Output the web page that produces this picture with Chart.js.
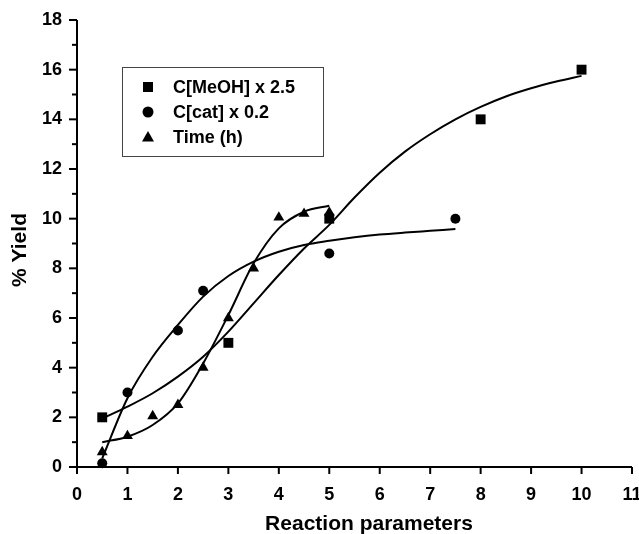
<!DOCTYPE html>
<html>
<head>
<meta charset="utf-8">
<script src="https://cdn.jsdelivr.net/npm/chart.js@4.4.0/dist/chart.umd.min.js"></script>
<style>
  html, body { margin: 0; padding: 0; background: #fff; }
</style>
</head>
<body>
<canvas id="chart" width="639" height="534"></canvas>
<script>
// measured points
const seriesNames = ['C[MeOH] x 2.5', 'C[cat] x 0.2', 'Time (h)'];
const meohX = [0.5, 3, 5, 8, 10];
const meohY = [2.0, 5.0, 10.0, 14.0, 16.0];
const catX = [0.5, 1, 2, 2.5, 5, 7.5];
const catY = [0.15, 3.0, 5.5, 7.1, 8.6, 10.0];
const timeX = [0.5, 1, 1.5, 2, 2.5, 3, 3.5, 4, 4.5, 5];
const timeY = [0.6, 1.25, 2.05, 2.5, 4.0, 6.0, 8.0, 10.05, 10.2, 10.25];

// fitted curves
const meohFitX = [0.5, 1, 1.5, 2, 2.5, 3, 3.5, 4, 4.5, 5, 5.5, 6, 6.5, 7, 7.5, 8, 8.5, 9, 9.5, 10];
const meohFitY = [1.95, 2.43, 2.97, 3.64, 4.44, 5.45, 6.59, 7.73, 8.8, 9.75, 10.85, 11.85, 12.7, 13.4, 14.0, 14.5, 14.92, 15.25, 15.52, 15.75];
const catFitX = [0.5, 1, 1.5, 2, 2.5, 3, 3.5, 4, 4.5, 5, 5.5, 6, 6.5, 7, 7.5];
const catFitY = [0.35, 2.77, 4.44, 5.72, 6.86, 7.69, 8.27, 8.67, 8.94, 9.11, 9.25, 9.36, 9.44, 9.51, 9.58];
const timeFitX = [0.5, 1, 1.5, 2, 2.5, 3, 3.5, 4, 4.5, 5];
const timeFitY = [1.0, 1.22, 1.69, 2.56, 4.17, 6.12, 8.2, 9.61, 10.28, 10.52];

const xMin = 0, xMax = 11;
const yMin = 0, yMax = 18;

const FONT = '"Liberation Sans", Arial, sans-serif';

function pts(xs, ys) {
  return xs.map((x, i) => ({ x: x, y: ys[i] }));
}

function markerSet(label, xs, ys, style, radius) {
  return {
    label: label,
    data: pts(xs, ys),
    showLine: false,
    pointStyle: style,
    pointRadius: radius,
    pointBackgroundColor: '#000',
    pointBorderColor: '#000',
    pointBorderWidth: 0,
    clip: false
  };
}

function fitSet(xs, ys) {
  return {
    label: '',
    data: pts(xs, ys),
    showLine: true,
    borderColor: '#000',
    borderWidth: 2,
    pointRadius: 0,
    cubicInterpolationMode: 'monotone',
    fill: false,
    clip: false
  };
}

const markerStyles = ['rect', 'circle', 'triangle'];
const markerRadius = [7, 5, 6.3];

// axes, ticks, titles and legend box
const framePlugin = {
  id: 'frame',
  afterDraw(chart) {
    const ctx = chart.ctx;
    const xs = chart.scales.x;
    const ys = chart.scales.y;
    const area = chart.chartArea;
    ctx.save();
    ctx.strokeStyle = '#000';
    ctx.lineWidth = 2;
    ctx.beginPath();
    ctx.moveTo(area.left, area.top);
    ctx.lineTo(area.left, area.bottom);
    ctx.lineTo(area.right, area.bottom);
    ctx.stroke();

    for (let v = xMin; v <= xMax; v++) {
      const px = xs.getPixelForValue(v);
      ctx.beginPath();
      ctx.moveTo(px, area.bottom);
      ctx.lineTo(px, area.bottom + 7);
      ctx.stroke();
    }
    for (let v = yMin; v <= yMax; v++) {
      const py = ys.getPixelForValue(v);
      const len = v % 2 === 0 ? 8 : 5;
      ctx.beginPath();
      ctx.moveTo(area.left, py);
      ctx.lineTo(area.left - len, py);
      ctx.stroke();
    }

    // axis titles
    ctx.fillStyle = '#000';
    ctx.font = 'bold 21px ' + FONT;
    ctx.textAlign = 'center';
    ctx.textBaseline = 'middle';
    ctx.fillText('Reaction parameters', 369, 524);
    ctx.translate(20, 250);
    ctx.rotate(-Math.PI / 2);
    ctx.fillText('% Yield', 0, 0);
    ctx.setTransform(1, 0, 0, 1, 0, 0);

    // legend
    ctx.strokeStyle = '#444';
    ctx.lineWidth = 1;
    ctx.strokeRect(122.5, 67.5, 201, 89);
    ctx.font = 'bold 18px ' + FONT;
    ctx.textAlign = 'left';
    const rows = [87, 112, 137];
    for (let i = 0; i < 3; i++) {
      const cy = rows[i];
      const cx = 148;
      ctx.fillStyle = '#000';
      ctx.beginPath();
      if (markerStyles[i] === 'rect') {
        ctx.rect(cx - 5, cy - 5, 10, 10);
      } else if (markerStyles[i] === 'circle') {
        ctx.arc(cx, cy, 5.5, 0, Math.PI * 2);
      } else {
        ctx.moveTo(cx, cy - 6);
        ctx.lineTo(cx + 6, cy + 4.5);
        ctx.lineTo(cx - 6, cy + 4.5);
        ctx.closePath();
      }
      ctx.fill();
      ctx.fillText(chart.data.datasets[i].label, 173, cy + 1);
    }
    ctx.restore();
  }
};

new Chart(document.getElementById('chart'), {
  type: 'scatter',
  data: {
    datasets: [
      markerSet(seriesNames[0], meohX, meohY, markerStyles[0], markerRadius[0]),
      markerSet(seriesNames[1], catX, catY, markerStyles[1], markerRadius[1]),
      markerSet(seriesNames[2], timeX, timeY, markerStyles[2], markerRadius[2]),
      fitSet(meohFitX, meohFitY),
      fitSet(catFitX, catFitY),
      fitSet(timeFitX, timeFitY)
    ]
  },
  options: {
    responsive: false,
    animation: false,
    layout: { padding: { top: 20, right: 7, left: 0, bottom: 0 } },
    plugins: {
      legend: { display: false },
      tooltip: { enabled: false }
    },
    scales: {
      x: {
        type: 'linear',
        min: xMin,
        max: xMax,
        grid: { display: false },
        border: { display: false },
        ticks: {
          stepSize: 1,
          padding: 9,
          color: '#000',
          font: { family: FONT, size: 18, weight: 'bold' }
        },
        afterFit(scale) {
          scale.height = 67;
          scale.paddingLeft = 0;
          scale.paddingRight = 0;
        }
      },
      y: {
        type: 'linear',
        min: yMin,
        max: yMax,
        grid: { display: false },
        border: { display: false },
        ticks: {
          stepSize: 2,
          padding: 7,
          color: '#000',
          font: { family: FONT, size: 18, weight: 'bold' }
        },
        afterFit(scale) {
          scale.width = 77;
          scale.paddingTop = 0;
          scale.paddingBottom = 0;
        }
      }
    }
  },
  plugins: [framePlugin]
});
</script>
</body>
</html>
